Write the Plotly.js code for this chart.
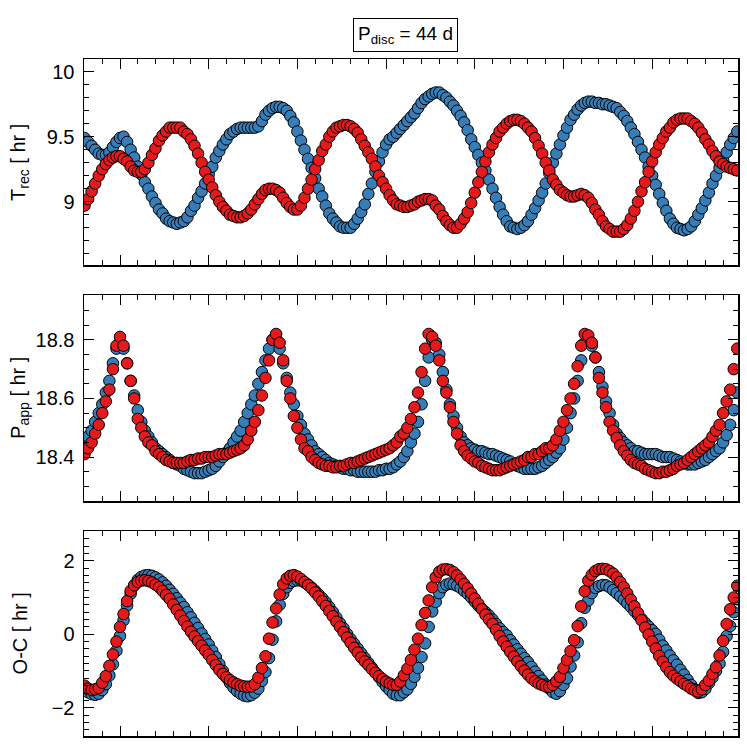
<!DOCTYPE html>
<html>
<head>
<meta charset="utf-8">
<script src="https://cdn.plot.ly/plotly-3.0.1.min.js"></script>
<style>
  html, body { margin: 0; padding: 0; background: #fff; }
  #PDGraph { width: 747px; height: 747px; }
</style>
</head>
<body>
<div id="PDGraph"></div>
<script>
// sample times in days, one per day
var FIRST_DAY = 15;
var LAST_DAY = 199;

// T_rec [hr]
var trecBlue = [
  9.49, 9.46, 9.43, 9.40, 9.37, 9.36, 9.36, 9.38, 9.42, 9.46,
  9.49, 9.50, 9.46, 9.40, 9.34, 9.27, 9.21, 9.15, 9.10, 9.04,
  8.99, 8.94, 8.91, 8.87, 8.85, 8.84, 8.83, 8.84, 8.85, 8.88,
  8.93, 8.97, 9.03, 9.08, 9.14, 9.21, 9.27, 9.34, 9.39, 9.44,
  9.48, 9.52, 9.54, 9.56, 9.57, 9.57, 9.57, 9.57, 9.57, 9.58,
  9.62, 9.67, 9.70, 9.72, 9.73, 9.73, 9.72, 9.70, 9.66, 9.61,
  9.54, 9.47, 9.40, 9.33, 9.26, 9.18, 9.10, 9.04, 8.97, 8.91,
  8.87, 8.84, 8.81, 8.80, 8.80, 8.80, 8.83, 8.87, 8.92, 8.98,
  9.06, 9.14, 9.23, 9.31, 9.38, 9.44, 9.48, 9.50, 9.53, 9.56,
  9.59, 9.62, 9.65, 9.68, 9.72, 9.76, 9.79, 9.81, 9.83, 9.84,
  9.84, 9.82, 9.80, 9.77, 9.74, 9.70, 9.66, 9.61, 9.55, 9.48,
  9.42, 9.36, 9.30, 9.24, 9.17, 9.10, 9.03, 8.96, 8.90, 8.85,
  8.81, 8.80, 8.79, 8.80, 8.82, 8.85, 8.90, 8.95, 9.01, 9.07,
  9.14, 9.22, 9.30, 9.37, 9.44, 9.51, 9.57, 9.63, 9.67, 9.71,
  9.74, 9.76, 9.77, 9.77, 9.76, 9.76, 9.75, 9.75, 9.74, 9.73,
  9.72, 9.69, 9.66, 9.62, 9.57, 9.52, 9.46, 9.40, 9.34, 9.27,
  9.20, 9.13, 9.06, 8.99, 8.93, 8.87, 8.83, 8.80, 8.79, 8.78,
  8.79, 8.81, 8.85, 8.90, 8.95, 9.01, 9.07, 9.14, 9.20, 9.26,
  9.32, 9.38, 9.44, 9.49, 9.54
];
var trecRed = [
  8.97, 9.02, 9.08, 9.14, 9.20, 9.25, 9.29, 9.32, 9.34, 9.35,
  9.35, 9.33, 9.31, 9.27, 9.24, 9.23, 9.23, 9.25, 9.30, 9.36,
  9.41, 9.47, 9.51, 9.54, 9.57, 9.57, 9.57, 9.57, 9.54, 9.52,
  9.48, 9.43, 9.37, 9.30, 9.23, 9.17, 9.11, 9.05, 9.00, 8.96,
  8.93, 8.90, 8.89, 8.88, 8.88, 8.89, 8.91, 8.94, 8.98, 9.02,
  9.06, 9.09, 9.10, 9.10, 9.09, 9.07, 9.03, 8.99, 8.96, 8.94,
  8.94, 8.97, 9.03, 9.10, 9.17, 9.25, 9.32, 9.39, 9.44, 9.50,
  9.54, 9.57, 9.58, 9.59, 9.59, 9.58, 9.56, 9.53, 9.48, 9.43,
  9.38, 9.33, 9.27, 9.20, 9.15, 9.10, 9.05, 9.01, 8.98, 8.97,
  8.96, 8.96, 8.97, 8.98, 9.00, 9.01, 9.02, 9.02, 9.01, 8.97,
  8.94, 8.89, 8.85, 8.82, 8.80, 8.80, 8.83, 8.87, 8.92, 8.99,
  9.07, 9.15, 9.23, 9.31, 9.38, 9.44, 9.49, 9.54, 9.57, 9.60,
  9.62, 9.63, 9.63, 9.62, 9.60, 9.57, 9.54, 9.49, 9.43, 9.37,
  9.30, 9.24, 9.17, 9.13, 9.09, 9.07, 9.05, 9.04, 9.04, 9.05,
  9.06, 9.05, 9.03, 8.99, 8.94, 8.90, 8.85, 8.81, 8.79, 8.77,
  8.77, 8.77, 8.79, 8.82, 8.87, 8.93, 9.00, 9.08, 9.15, 9.23,
  9.31, 9.38, 9.44, 9.49, 9.54, 9.57, 9.61, 9.63, 9.64, 9.64,
  9.64, 9.62, 9.60, 9.57, 9.53, 9.48, 9.44, 9.39, 9.35, 9.31,
  9.29, 9.27, 9.26, 9.25, 9.24
];

// P_app [hr]
var pappBlue = [
  18.45, 18.47, 18.49, 18.52, 18.55, 18.58, 18.62, 18.66, 18.72, 18.77,
  18.79, 18.77, 18.72, 18.66, 18.61, 18.56, 18.52, 18.49, 18.47, 18.45,
  18.43, 18.42, 18.41, 18.40, 18.39, 18.38, 18.375, 18.37, 18.36, 18.355,
  18.35, 18.345, 18.345, 18.345, 18.35, 18.355, 18.36, 18.37, 18.385, 18.40,
  18.415, 18.43, 18.45, 18.47, 18.49, 18.52, 18.55, 18.58, 18.61, 18.65,
  18.69, 18.73, 18.77, 18.80, 18.80, 18.77, 18.72, 18.67, 18.62, 18.58,
  18.54, 18.51, 18.48, 18.46, 18.44, 18.42, 18.41, 18.40, 18.39, 18.38,
  18.375, 18.37, 18.365, 18.36, 18.36, 18.355, 18.355, 18.35, 18.35, 18.35,
  18.35, 18.35, 18.35, 18.355, 18.355, 18.36, 18.36, 18.365, 18.375, 18.385,
  18.40, 18.42, 18.45, 18.48, 18.52, 18.58, 18.66, 18.74, 18.80, 18.79,
  18.75, 18.69, 18.63, 18.58, 18.54, 18.50, 18.47, 18.45, 18.44, 18.43,
  18.425, 18.42, 18.42, 18.415, 18.41, 18.41, 18.405, 18.40, 18.395, 18.39,
  18.385, 18.375, 18.37, 18.365, 18.36, 18.36, 18.36, 18.36, 18.365, 18.37,
  18.38, 18.39, 18.40, 18.415, 18.43, 18.46, 18.50, 18.55, 18.60, 18.66,
  18.73, 18.79, 18.80, 18.78, 18.74, 18.69, 18.64, 18.59, 18.55, 18.51,
  18.48, 18.465, 18.45, 18.44, 18.43, 18.42, 18.42, 18.415, 18.41, 18.41,
  18.41, 18.41, 18.405, 18.40, 18.40, 18.40, 18.395, 18.39, 18.385, 18.38,
  18.375, 18.375, 18.375, 18.38, 18.385, 18.39, 18.40, 18.41, 18.42, 18.43,
  18.45, 18.475, 18.51, 18.56, 18.62
];
var pappRed = [
  18.41, 18.43, 18.45, 18.48, 18.51, 18.55, 18.59, 18.63, 18.70, 18.78,
  18.81, 18.78, 18.72, 18.66, 18.60, 18.53, 18.50, 18.47, 18.45, 18.44,
  18.42, 18.41, 18.40, 18.39, 18.385, 18.38, 18.38, 18.38, 18.38, 18.385,
  18.39, 18.39, 18.395, 18.395, 18.40, 18.40, 18.40, 18.405, 18.41, 18.41,
  18.41, 18.415, 18.42, 18.425, 18.43, 18.44, 18.46, 18.49, 18.52, 18.56,
  18.61, 18.67, 18.73, 18.80, 18.82, 18.79, 18.73, 18.66, 18.60, 18.54,
  18.50, 18.46, 18.43, 18.42, 18.40, 18.39, 18.38, 18.375, 18.37, 18.37,
  18.365, 18.365, 18.37, 18.37, 18.375, 18.38, 18.38, 18.385, 18.39, 18.395,
  18.40, 18.405, 18.41, 18.415, 18.42, 18.425, 18.43, 18.44, 18.45, 18.47,
  18.48, 18.50, 18.53, 18.57, 18.62, 18.69, 18.77, 18.82, 18.81, 18.78,
  18.73, 18.66, 18.62, 18.57, 18.52, 18.48, 18.44, 18.42, 18.405, 18.395,
  18.385, 18.38, 18.37, 18.365, 18.36, 18.355, 18.355, 18.355, 18.36, 18.365,
  18.37, 18.375, 18.38, 18.385, 18.39, 18.40, 18.40, 18.41, 18.41, 18.42,
  18.43, 18.43, 18.44, 18.46, 18.49, 18.52, 18.56, 18.60, 18.65, 18.71,
  18.78, 18.82, 18.815, 18.79, 18.74, 18.67, 18.62, 18.57, 18.52, 18.49,
  18.465, 18.44, 18.42, 18.405, 18.39, 18.38, 18.375, 18.37, 18.36, 18.355,
  18.35, 18.345, 18.345, 18.35, 18.35, 18.355, 18.36, 18.37, 18.375, 18.38,
  18.39, 18.40, 18.41, 18.42, 18.43, 18.44, 18.45, 18.47, 18.49, 18.51,
  18.55, 18.59, 18.63, 18.70, 18.77
];

// O-C [hr]
var ocBlue = [
  -1.52, -1.58, -1.63, -1.65, -1.62, -1.52, -1.36, -1.12, -0.82, -0.45,
  -0.05, 0.38, 0.78, 1.10, 1.33, 1.48, 1.56, 1.60, 1.61, 1.59,
  1.55, 1.49, 1.41, 1.32, 1.21, 1.10, 0.98, 0.86, 0.74, 0.60,
  0.46, 0.31, 0.17, 0.02, -0.13, -0.28, -0.45, -0.62, -0.81, -1.00,
  -1.18, -1.33, -1.45, -1.55, -1.62, -1.67, -1.69, -1.66, -1.59, -1.48,
  -1.27, -1.03, -0.65, -0.15, 0.35, 0.80, 1.10, 1.28, 1.40, 1.45,
  1.47, 1.46, 1.41, 1.35, 1.27, 1.18, 1.08, 0.98, 0.87, 0.74,
  0.60, 0.45, 0.30, 0.16, 0.01, -0.13, -0.26, -0.39, -0.52, -0.65,
  -0.78, -0.91, -1.04, -1.17, -1.30, -1.42, -1.52, -1.62, -1.66, -1.66,
  -1.58, -1.50, -1.35, -1.16, -0.92, -0.62, -0.25, 0.20, 0.62, 0.88,
  1.12, 1.28, 1.35, 1.38, 1.36, 1.32, 1.26, 1.18, 1.10, 1.00,
  0.89, 0.78, 0.69, 0.60, 0.51, 0.40, 0.28, 0.16, 0.06, -0.03,
  -0.16, -0.28, -0.41, -0.53, -0.65, -0.76, -0.89, -1.02, -1.14, -1.26,
  -1.37, -1.48, -1.58, -1.62, -1.55, -1.38, -1.20, -0.88, -0.58, -0.22,
  0.30, 0.72, 0.92, 1.12, 1.26, 1.31, 1.34, 1.33, 1.28, 1.20,
  1.12, 1.03, 0.94, 0.84, 0.74, 0.63, 0.52, 0.42, 0.31, 0.21,
  0.11, 0.01, -0.15, -0.31, -0.44, -0.58, -0.71, -0.83, -0.97, -1.10,
  -1.24, -1.38, -1.50, -1.60, -1.58, -1.49, -1.33, -1.18, -1.00, -0.80,
  -0.48, -0.05, 0.22, 0.60, 0.95
];
var ocRed = [
  -1.40, -1.48, -1.52, -1.50, -1.46, -1.32, -1.14, -0.86, -0.55, -0.20,
  0.20, 0.55, 0.90, 1.18, 1.33, 1.42, 1.46, 1.47, 1.45, 1.41,
  1.35, 1.28, 1.18, 1.07, 0.96, 0.81, 0.66, 0.51, 0.36, 0.21,
  0.07, -0.06, -0.19, -0.31, -0.44, -0.56, -0.70, -0.84, -0.97, -1.08,
  -1.17, -1.25, -1.31, -1.36, -1.40, -1.42, -1.43, -1.42, -1.36, -1.18,
  -0.92, -0.60, -0.12, 0.32, 0.70, 1.08, 1.36, 1.52, 1.59, 1.61,
  1.57, 1.50, 1.42, 1.34, 1.25, 1.14, 1.03, 0.90, 0.77, 0.63,
  0.49, 0.34, 0.20, 0.06, -0.09, -0.23, -0.37, -0.50, -0.63, -0.74,
  -0.84, -0.95, -1.05, -1.14, -1.22, -1.29, -1.34, -1.38, -1.38, -1.29,
  -1.12, -0.94, -0.70, -0.42, -0.12, 0.25, 0.58, 0.92, 1.28, 1.55,
  1.70, 1.76, 1.77, 1.75, 1.69, 1.60, 1.49, 1.37, 1.25, 1.11,
  0.97, 0.83, 0.68, 0.53, 0.40, 0.28, 0.12, -0.05, -0.20, -0.34,
  -0.48, -0.61, -0.74, -0.87, -0.99, -1.10, -1.20, -1.28, -1.34, -1.38,
  -1.42, -1.43, -1.38, -1.28, -1.16, -0.92, -0.70, -0.46, -0.16, 0.22,
  0.76, 1.17, 1.46, 1.62, 1.72, 1.77, 1.78, 1.77, 1.72, 1.65,
  1.55, 1.42, 1.28, 1.11, 0.94, 0.76, 0.58, 0.38, 0.18, -0.01,
  -0.20, -0.39, -0.59, -0.75, -0.90, -1.03, -1.13, -1.21, -1.28, -1.35,
  -1.41, -1.48, -1.53, -1.56, -1.50, -1.38, -1.26, -1.08, -0.90, -0.58,
  -0.18, 0.28, 0.68, 1.00, 1.32
];

var BLUE = '#377EB8';
var RED = '#E41A1C';
var FONT = 'Liberation Sans, Arial, Helvetica, sans-serif';

var days = [];
for (var d = FIRST_DAY; d <= LAST_DAY; d++) days.push(d);

function dots(y, color, n) {
  return {type: 'scatter', mode: 'markers',
          x: days, y: y,
          xaxis: 'x' + n, yaxis: 'y' + n,
          marker: {color: color, size: 11.5, line: {color: '#000', width: 1}},
          hoverinfo: 'skip'};
}

function xax(n) {
  return {anchor: 'y' + n, domain: [0, 1], range: [14.85, 199.2],
          showticklabels: false, showgrid: false, zeroline: false,
          showline: true, linecolor: '#000', linewidth: 1.5, mirror: 'ticks',
          ticks: 'inside', tickmode: 'linear', tick0: 0, dtick: 25,
          ticklen: 10, tickwidth: 1, tickcolor: '#000',
          minor: {ticks: 'inside', tick0: 0, dtick: 5, ticklen: 5, tickwidth: 1, tickcolor: '#000'}};
}

function yax(n, dom, range, dtick, mdtick, t0) {
  return {anchor: 'x' + n, domain: dom, range: range,
          showgrid: false, zeroline: false,
          showline: true, linecolor: '#000', linewidth: 1.5, mirror: 'ticks',
          ticks: 'inside', tickmode: 'linear', tick0: t0, dtick: dtick,
          ticklen: 10, tickwidth: 1, tickcolor: '#000',
          tickfont: {family: FONT, size: 20, color: '#000'},
          ticklabelstandoff: 4,
          minor: {ticks: 'inside', tick0: t0, dtick: mdtick, ticklen: 5, tickwidth: 1, tickcolor: '#000'}};
}

function ylabel(text, y) {
  return {xref: 'paper', yref: 'paper', x: -0.098, y: y,
          xanchor: 'center', yanchor: 'middle', textangle: -90,
          showarrow: false, text: text,
          font: {family: FONT, size: 20, color: '#000'}};
}

var data = [
  dots(trecBlue, BLUE, 1), dots(trecRed, RED, 1),
  dots(pappBlue, BLUE, 2), dots(pappRed, RED, 2),
  dots(ocBlue, BLUE, 3), dots(ocRed, RED, 3)
];

var layout = {
  width: 747, height: 747,
  margin: {l: 84, r: 9, t: 59, b: 11},
  paper_bgcolor: '#fff', plot_bgcolor: '#fff',
  showlegend: false,
  xaxis1: xax(1), yaxis1: yax(1, [0.6957, 1], [8.513, 10.098], 0.5, 0.1, 9),
  xaxis2: xax(2), yaxis2: yax(2, [0.3471, 0.6514], [18.25, 18.953], 0.2, 0.05, 18.4),
  xaxis3: xax(3), yaxis3: yax(3, [0, 0.3028], [-2.77, 2.81], 2, 0.2, 0),
  annotations: [
    {xref: 'paper', yref: 'paper', x: 0.4916, y: 1.0355,
     xanchor: 'center', yanchor: 'middle', showarrow: false,
     text: 'P<sub>disc</sub> = 44 d',
     font: {family: FONT, size: 19, color: '#000'},
     bordercolor: '#000', borderwidth: 1, borderpad: 4, bgcolor: '#fff'},
    ylabel('T<sub>rec</sub> [ hr ]', 0.8479),
    ylabel('P<sub>app</sub> [ hr ]', 0.4993),
    ylabel('O-C [ hr ]', 0.1514)
  ]
};

Plotly.newPlot('PDGraph', data, layout, {displayModeBar: false, staticPlot: true});
</script>
</body>
</html>
